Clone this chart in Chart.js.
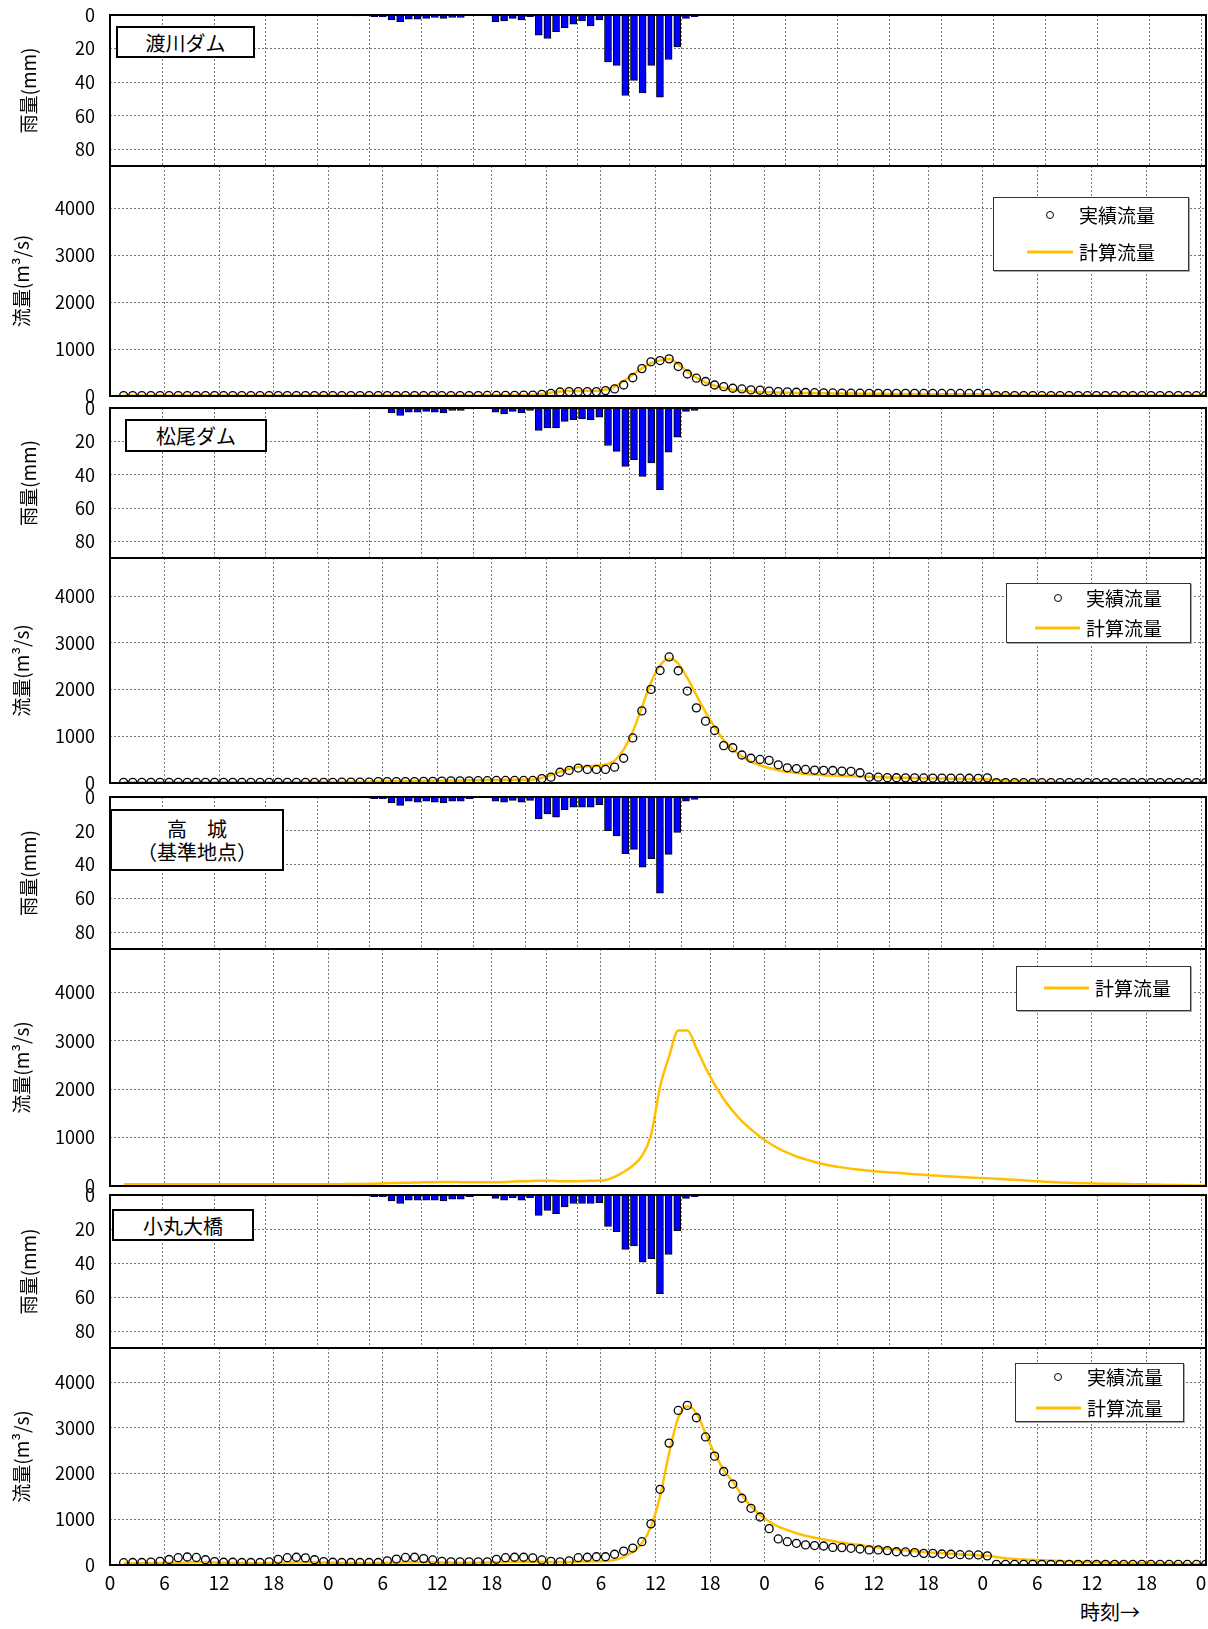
<!DOCTYPE html>
<html lang="ja">
<head>
<meta charset="utf-8">
<script src="https://cdn.jsdelivr.net/npm/chart.js@4.4.1/dist/chart.umd.min.js"></script>
<style>
  html, body { margin: 0; padding: 0; background: #fff; }
  body { position: relative; width: 1208px; height: 1629px; overflow: hidden; font-family: 'Noto Sans CJK JP', sans-serif; color: #000; }
  canvas { position: absolute; left: 0; }
  .station { position: absolute; background: #fff; border: 2px solid #000; box-sizing: border-box;
             display: flex; flex-direction: column; align-items: center; justify-content: center;
             font-size: 20px; line-height: 23px; z-index: 5; }
  .legend { position: absolute; background: #fff; border: 1.5px solid #333; box-sizing: border-box;
            box-shadow: 1px 1px 0 #aaa; z-index: 5; }
  .lg-text { position: absolute; font-size: 19px; line-height: 20px; transform: translateY(-50%); z-index: 6; white-space: nowrap; }
  .lg-dot { position: absolute; width: 8px; height: 8px; border: 1.5px solid #000; border-radius: 50%;
            box-sizing: border-box; transform: translate(-50%, -50%); z-index: 6; }
  .lg-line { position: absolute; height: 3px; background: #FFC000; transform: translateY(-50%); z-index: 6; }
  #xlabel { position: absolute; left: 1080px; top: 1600px; font-size: 20px; line-height: 24px; }
</style>
</head>
<body>

<div class="station" style="left:116px; top:26px; width:139px; height:32px;">渡川ダム</div>
<div class="station" style="left:125px; top:419px; width:142px; height:33px;">松尾ダム</div>
<div class="station" style="left:110px; top:809px; width:174px; height:62px;"><div>高　城</div><div>（基準地点）</div></div>
<div class="station" style="left:112px; top:1209px; width:142px; height:32px;">小丸大橋</div>

<div class="legend" style="left:993px; top:197px; width:196px; height:74px;"></div>
<div class="lg-dot" style="left:1050px; top:215px;"></div>
<div class="lg-text" style="left:1079px; top:215px;">実績流量</div>
<div class="lg-line" style="left:1027px; top:252px; width:46px;"></div>
<div class="lg-text" style="left:1079px; top:252px;">計算流量</div>

<div class="legend" style="left:1006px; top:583px; width:185px; height:60px;"></div>
<div class="lg-dot" style="left:1058px; top:598px;"></div>
<div class="lg-text" style="left:1086px; top:598px;">実績流量</div>
<div class="lg-line" style="left:1035px; top:628px; width:45px;"></div>
<div class="lg-text" style="left:1086px; top:628px;">計算流量</div>

<div class="legend" style="left:1016px; top:966px; width:175px; height:45px;"></div>
<div class="lg-line" style="left:1044px; top:988px; width:45px;"></div>
<div class="lg-text" style="left:1095px; top:988px;">計算流量</div>

<div class="legend" style="left:1015px; top:1363px; width:169px; height:59px;"></div>
<div class="lg-dot" style="left:1058px; top:1377px;"></div>
<div class="lg-text" style="left:1087px; top:1377px;">実績流量</div>
<div class="lg-line" style="left:1036px; top:1408px; width:45px;"></div>
<div class="lg-text" style="left:1087px; top:1408px;">計算流量</div>

<div id="xlabel">時刻→</div>

<script>
// hourly samples, plotted at the middle of each hour
var HOURS = [];
for (var i = 0; i < 120; i++) HOURS.push(i + 1.5);
var X_TICKS = [0, 6, 12, 18, 24, 30, 36, 42, 48, 54, 60, 66, 72, 78, 84, 90, 96, 102, 108, 114, 120];
var RAIN_TICKS = [0, 20, 40, 60, 80];
var FLOW_TICKS = [0, 1000, 2000, 3000, 4000];

// 渡川ダム
var rainTogawa = [
  0,0,0,0,0,0,0,0,0,0,0,0,
  0,0,0,0,0,0,0,0,0,0,0,0,
  0.5,0,1,1,3,4,2.5,2.5,2,1.5,2,1.5,
  1.5,0,0,0,4,3.5,2,3,1,12,14,10,
  7.5,5.5,3.5,6.5,3,28,30,48,39,46.5,30,49,
  26.5,19,2,1,0,0,0,0,0,0,0,0,
  0,0,0,0,0,0,0,0,0,0,0,0,
  0,0,0,0,0,0,0,0,0,0,0,0,
  0,0,0,0,0,0,0,0,0,0,0,0,
  0,0,0,0,0,0,0,0,0,0,0,0
];
var obsTogawa = [
  10,10,10,10,10,10,10,10,10,10,10,10,
  10,10,10,10,10,10,10,10,10,10,10,10,
  10,10,10,10,10,10,10,10,10,10,10,10,
  10,10,10,10,12,12,15,15,18,20,35,55,
  85,95,95,95,95,115,150,235,390,585,730,757,
  793,630,470,380,310,235,200,165,150,130,125,105,
  95,90,80,75,70,68,65,62,60,60,58,58,
  57,57,56,56,55,55,55,55,55,55,55,55,
  8,8,8,8,8,8,8,8,8,8,8,8,
  8,8,8,8,8,8,8,8,8,8,8,8
];
var calcTogawa = [
  12,12,12,12,12,12,12,12,12,12,12,12,
  12,12,12,12,12,12,12,12,12,12,12,12,
  12,12,12,12,12,12,12,12,12,12,12,12,
  12,12,12,13,14,16,18,20,22,25,45,70,
  95,105,108,110,112,140,200,320,460,590,700,760,
  790,680,520,390,290,220,170,135,112,98,88,80,
  74,70,66,63,60,58,56,54,52,50,48,46,
  45,44,43,42,41,40,40,39,38,38,37,36,
  30,25,22,20,18,16,15,14,13,12,12,11,
  11,10,10,10,10,10,10,10,10,10,10,10
];

// 松尾ダム
var rainMatsuo = [
  0,0,0,0,0,0,0,0,0,0,0,0,
  0,0,0,0,0,0,0,0,0,0,0,0,
  0.5,0,0.5,0.5,3,4.5,2.5,2.5,2,2.5,3,1.5,
  1.5,0.5,0,0,2.5,3.5,2,3,1.5,13.5,12,12,
  8,7,6.5,7,5.5,22.5,26,35,31,41,33,49,
  26.5,17.5,2,1.5,0,0,0,0,0,0,0,0,
  0,0,0,0,0,0,0,0,0,0,0,0,
  0,0,0,0,0,0,0,0,0,0,0,0,
  0,0,0,0,0,0,0,0,0,0,0,0,
  0,0,0,0,0,0,0,0,0,0,0,0
];
var obsMatsuo = [
  15,15,15,15,15,15,15,15,15,15,15,15,
  15,15,15,15,15,15,15,15,15,15,15,15,
  20,20,20,20,30,30,30,30,30,35,35,40,
  45,45,45,50,50,55,55,55,55,55,95,125,
  230,270,320,290,290,290,340,530,965,1545,2005,2410,
  2700,2405,1970,1610,1325,1125,800,755,600,530,505,485,
  390,325,310,290,275,270,268,255,250,220,125,125,
  115,112,110,110,108,106,105,104,103,102,100,110,
  8,8,8,8,8,8,8,8,8,8,8,8,
  8,8,8,8,8,8,8,8,8,8,8,8
];
var calcMatsuo = [
  15,15,15,15,15,15,15,15,15,15,15,15,
  15,15,15,15,15,15,18,18,20,20,22,22,
  25,25,28,30,32,35,38,40,42,45,48,50,
  52,55,58,60,62,65,68,70,72,75,110,170,
  240,300,340,360,370,390,480,720,1100,1620,2150,2520,
  2660,2560,2250,1880,1520,1200,920,720,570,460,380,320,
  275,240,215,195,180,167,158,150,144,138,132,126,
  120,115,110,106,102,98,95,92,89,86,83,80,
  65,50,40,32,27,23,20,18,16,15,14,13,
  12,12,11,11,10,10,10,10,10,10,10,10
];

// 高城（基準地点）
var rainTakajo = [
  0,0,0,0,0,0,0,0,0,0,0,0,
  0,0,0,0,0,0,0,0,0,0,0,0,
  0.5,0,1,1,3.5,5,2.5,3,2.5,3,3.5,2.5,
  2.5,1,0,0,2.5,3,2,3,2,13,10,12,
  7.5,6,6,6,4.5,20,23,33.5,31,41.5,36.5,57,
  34,21,2.5,1.5,0.5,0,0,0,0,0,0,0,
  0,0,0,0,0,0,0,0,0,0,0,0,
  0,0,0,0,0,0,0,0,0,0,0,0,
  0,0,0,0,0,0,0,0,0,0,0,0,
  0,0,0,0,0,0,0,0,0,0,0,0
];
var calcTakajo = [
  35,35,35,35,35,35,35,35,35,35,35,35,
  35,35,35,35,35,35,35,35,35,35,35,35,
  38,40,42,45,50,55,60,65,70,75,80,82,
  82,80,78,76,75,78,85,95,100,105,110,108,
  100,97,100,105,110,125,190,290,420,620,1050,2050,
  2680,3215,3215,2850,2450,2100,1800,1550,1340,1170,1020,890,
  780,690,610,550,495,450,415,385,358,335,315,298,
  285,272,258,244,231,219,207,196,186,177,168,159,
  149,139,128,117,105,94,83,73,65,59,55,51,
  48,45,42,38,35,31,27,23,19,15,11,8
];

// 小丸大橋
var rainKomaru = [
  0,0,0,0,0,0,0,0,0,0,0,0,
  0,0,0,0,0,0,0,0,0,0,0,0,
  0.5,0,1,1,3.5,5,3,3,3,3,3.5,2.5,
  2.5,1,0,0,2,3,1.5,3,1.5,12,9,11,
  7,5,5,5,4.5,18.5,21.5,32,30,39.5,37.5,58,
  35,21,2,1,0,0,0,0,0,0,0,0,
  0,0,0,0,0,0,0,0,0,0,0,0,
  0,0,0,0,0,0,0,0,0,0,0,0,
  0,0,0,0,0,0,0,0,0,0,0,0,
  0,0,0,0,0,0,0,0,0,0,0,0
];
var obsKomaru = [
  50,55,55,65,80,120,160,175,165,115,75,60,
  60,55,55,55,70,125,160,170,155,115,75,60,
  55,55,55,55,55,90,130,165,170,140,110,80,
  70,70,70,70,70,125,160,170,170,155,110,80,
  70,90,160,170,180,180,235,305,370,510,900,1655,
  2665,3380,3490,3220,2800,2380,2045,1770,1460,1240,1050,795,
  570,510,475,440,425,415,385,380,365,350,330,330,
  315,290,285,270,255,255,240,235,225,220,220,200,
  15,15,15,15,15,15,15,15,15,15,15,15,
  15,15,15,15,15,15,15,15,15,15,15,15
];
var calcKomaru = [
  40,40,40,40,42,45,50,55,58,58,55,50,
  45,42,40,40,42,48,55,60,60,58,52,48,
  45,42,40,40,42,48,55,60,62,60,58,55,
  52,50,50,52,55,60,65,70,72,72,70,68,
  65,68,72,76,80,90,110,180,290,475,840,1500,
  2450,3220,3470,3320,2880,2440,2080,1825,1530,1280,1095,950,
  840,765,695,640,595,560,525,490,460,435,405,380,
  360,340,320,300,285,270,258,245,232,222,212,200,
  175,150,130,118,110,102,95,88,80,72,65,60,
  55,50,46,43,40,37,34,31,28,25,22,20
];

// page layout (pixel rows of each panel: rain top, rain/flow divider, flow zero line)
var PANELS = [
  { rain: rainTogawa, obs: obsTogawa, calc: calcTogawa, top: 15, mid: 166, bottom: 396, flowMax: 4910 },
  { rain: rainMatsuo, obs: obsMatsuo, calc: calcMatsuo, top: 408, mid: 558, bottom: 783, flowMax: 4820 },
  { rain: rainTakajo, obs: null, calc: calcTakajo, top: 797, mid: 949, bottom: 1186, flowMax: 4900 },
  { rain: rainKomaru, obs: obsKomaru, calc: calcKomaru, top: 1195, mid: 1348, bottom: 1565, flowMax: 4745 }
];

var FONT = "'Noto Sans CJK JP', 'Noto Sans', sans-serif";
var PAD = 30, CW = 1260, PLOT_LEFT = 110, PLOT_RIGHT = 1206, X_MAX = 120.55, XAXIS_H = 40;
var GRID = '#7a7a7a';

Chart.defaults.font.family = FONT;
Chart.defaults.color = '#000';

var framePlugin = {
  id: 'frame',
  afterDraw: function(chart) {
    var a = chart.chartArea, ctx = chart.ctx;
    ctx.save();
    ctx.strokeStyle = '#000';
    ctx.lineWidth = 2;
    ctx.strokeRect(a.left, a.top, a.right - a.left, a.bottom - a.top);
    ctx.restore();
  }
};

function addCanvas(top, height) {
  var c = document.createElement('canvas');
  c.width = CW;
  c.height = height;
  c.style.top = top + 'px';
  c.style.width = CW + 'px';
  c.style.height = height + 'px';
  document.body.appendChild(c);
  return c;
}

function pts(values) {
  return HOURS.map(function(h, i) { return { x: h, y: values[i] }; });
}

function xScale(showLabels) {
  return {
    type: 'linear', min: 0, max: X_MAX,
    afterBuildTicks: function(s) { s.ticks = X_TICKS.map(function(v) { return { value: v }; }); },
    afterFit: function(s) { s.height = showLabels ? XAXIS_H : 0; },
    grid: { color: GRID, lineWidth: 1, drawTicks: false },
    border: { display: false, dash: [2, 2] },
    ticks: {
      display: showLabels, padding: 6, maxRotation: 0, autoSkip: false,
      font: { size: 19 },
      callback: function(v) { return String(v % 24); }
    }
  };
}

function yScale(ticks, min, max, reverse, title, titlePad) {
  return {
    type: 'linear', min: min, max: max, reverse: reverse,
    afterBuildTicks: function(s) { s.ticks = ticks.map(function(v) { return { value: v }; }); },
    afterFit: function(s) { s.width = PLOT_LEFT; },
    grid: { color: GRID, lineWidth: 1, drawTicks: false },
    border: { display: false, dash: [2, 2] },
    ticks: { padding: 15, font: { size: 18 }, callback: function(v) { return String(v); } },
    title: { display: true, text: title, font: { size: 19 }, padding: { top: titlePad, bottom: 0 } }
  };
}

PANELS.forEach(function(p, n) {
  var last = n === PANELS.length - 1;

  // rainfall, hanging from the top
  new Chart(addCanvas(p.top - PAD, p.mid - p.top + 2 * PAD), {
    type: 'bar',
    data: {
      datasets: [{
        data: pts(p.rain),
        backgroundColor: '#0000FF',
        borderColor: '#000',
        borderWidth: 1,
        barThickness: 7
      }]
    },
    options: {
      responsive: false, animation: false,
      layout: { padding: { top: PAD, bottom: PAD, left: 0, right: CW - PLOT_RIGHT } },
      plugins: { legend: { display: false }, tooltip: { enabled: false } },
      scales: { x: xScale(false), y: yScale(RAIN_TICKS, 0, 90, true, '雨量(mm)', 17) }
    },
    plugins: [framePlugin]
  });

  // discharge
  var sets = [{
    data: pts(p.calc),
    borderColor: '#FFC000',
    borderWidth: 2.5,
    pointRadius: 0,
    tension: 0.4,
    cubicInterpolationMode: 'monotone',
    order: 1
  }];
  if (p.obs) {
    sets.push({
      data: pts(p.obs),
      showLine: false,
      pointRadius: 4,
      pointBorderWidth: 1.3,
      pointBorderColor: '#000',
      pointBackgroundColor: 'rgba(255,255,255,0)',
      order: 0
    });
  }
  var h = p.bottom - p.mid + PAD + (last ? XAXIS_H : PAD);
  new Chart(addCanvas(p.mid - PAD, h), {
    type: 'line',
    data: { datasets: sets },
    options: {
      responsive: false, animation: false,
      layout: { padding: { top: PAD, bottom: last ? 0 : PAD, left: 0, right: CW - PLOT_RIGHT } },
      plugins: { legend: { display: false }, tooltip: { enabled: false } },
      scales: { x: xScale(last), y: yScale(FLOW_TICKS, 0, p.flowMax, false, '流量(m³/s)', 10) }
    },
    plugins: [framePlugin]
  });
});
</script>
</body>
</html>
